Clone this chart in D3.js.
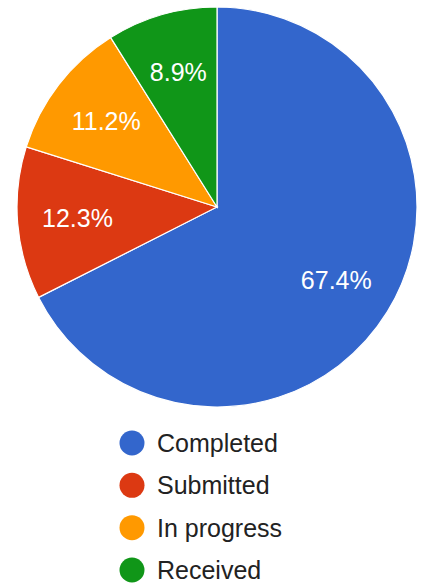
<!DOCTYPE html>
<html>
<head>
<meta charset="utf-8">
<script src="https://cdn.jsdelivr.net/npm/d3@7"></script>
<style>
  body { margin: 0; background: #fff; }
  svg { display: block; }
</style>
</head>
<body>
<div class="svg-container"></div>
<script>
const categories = ["Completed", "Submitted", "In progress", "Received"];
const shares = [67.4, 12.3, 11.2, 8.9];
const colors = ["#3366cc", "#dc3912", "#ff9900", "#109618"];

const width = 423;
const height = 584;
const cx = 217, cy = 207;
const radius = 200;

const svg = d3.select(".svg-container").append("svg")
    .attr("width", width)
    .attr("height", height);

const data = categories.map((c, i) => ({ name: c, value: shares[i], color: colors[i] }));

const pie = d3.pie().value(d => d.value).sort(null);
const arc = d3.arc().innerRadius(0).outerRadius(radius);
const labelArc = d3.arc().innerRadius(140).outerRadius(140);

const g = svg.append("g").attr("transform", "translate(" + cx + "," + cy + ")");

const slices = g.selectAll(".slice")
    .data(pie(data))
    .enter()
    .append("g")
    .classed("slice", true);

slices.append("path")
    .attr("d", arc)
    .attr("fill", d => d.data.color)
    .attr("stroke", "#fff")
    .attr("stroke-width", 1.2);

slices.append("text")
    .attr("transform", d => "translate(" + labelArc.centroid(d) + ")")
    .attr("text-anchor", "middle")
    .attr("dy", "0.36em")
    .attr("fill", "#fff")
    .style("font-family", "Arial, 'Liberation Sans', sans-serif")
    .style("font-size", "25px")
    .text(d => d.data.value.toFixed(1) + "%");

// legend
const legend = svg.append("g").attr("transform", "translate(132,443)");
const rowY = d3.scalePoint().domain(categories).range([0, 127]);

const items = legend.selectAll(".item")
    .data(data)
    .enter()
    .append("g")
    .classed("item", true)
    .attr("transform", d => "translate(0," + rowY(d.name) + ")");

items.append("circle")
    .attr("r", 12.5)
    .attr("fill", d => d.color);

items.append("text")
    .attr("x", 25)
    .attr("dy", "0.36em")
    .attr("fill", "#222")
    .style("font-family", "Arial, 'Liberation Sans', sans-serif")
    .style("font-size", "25px")
    .text(d => d.name);
</script>
</body>
</html>
